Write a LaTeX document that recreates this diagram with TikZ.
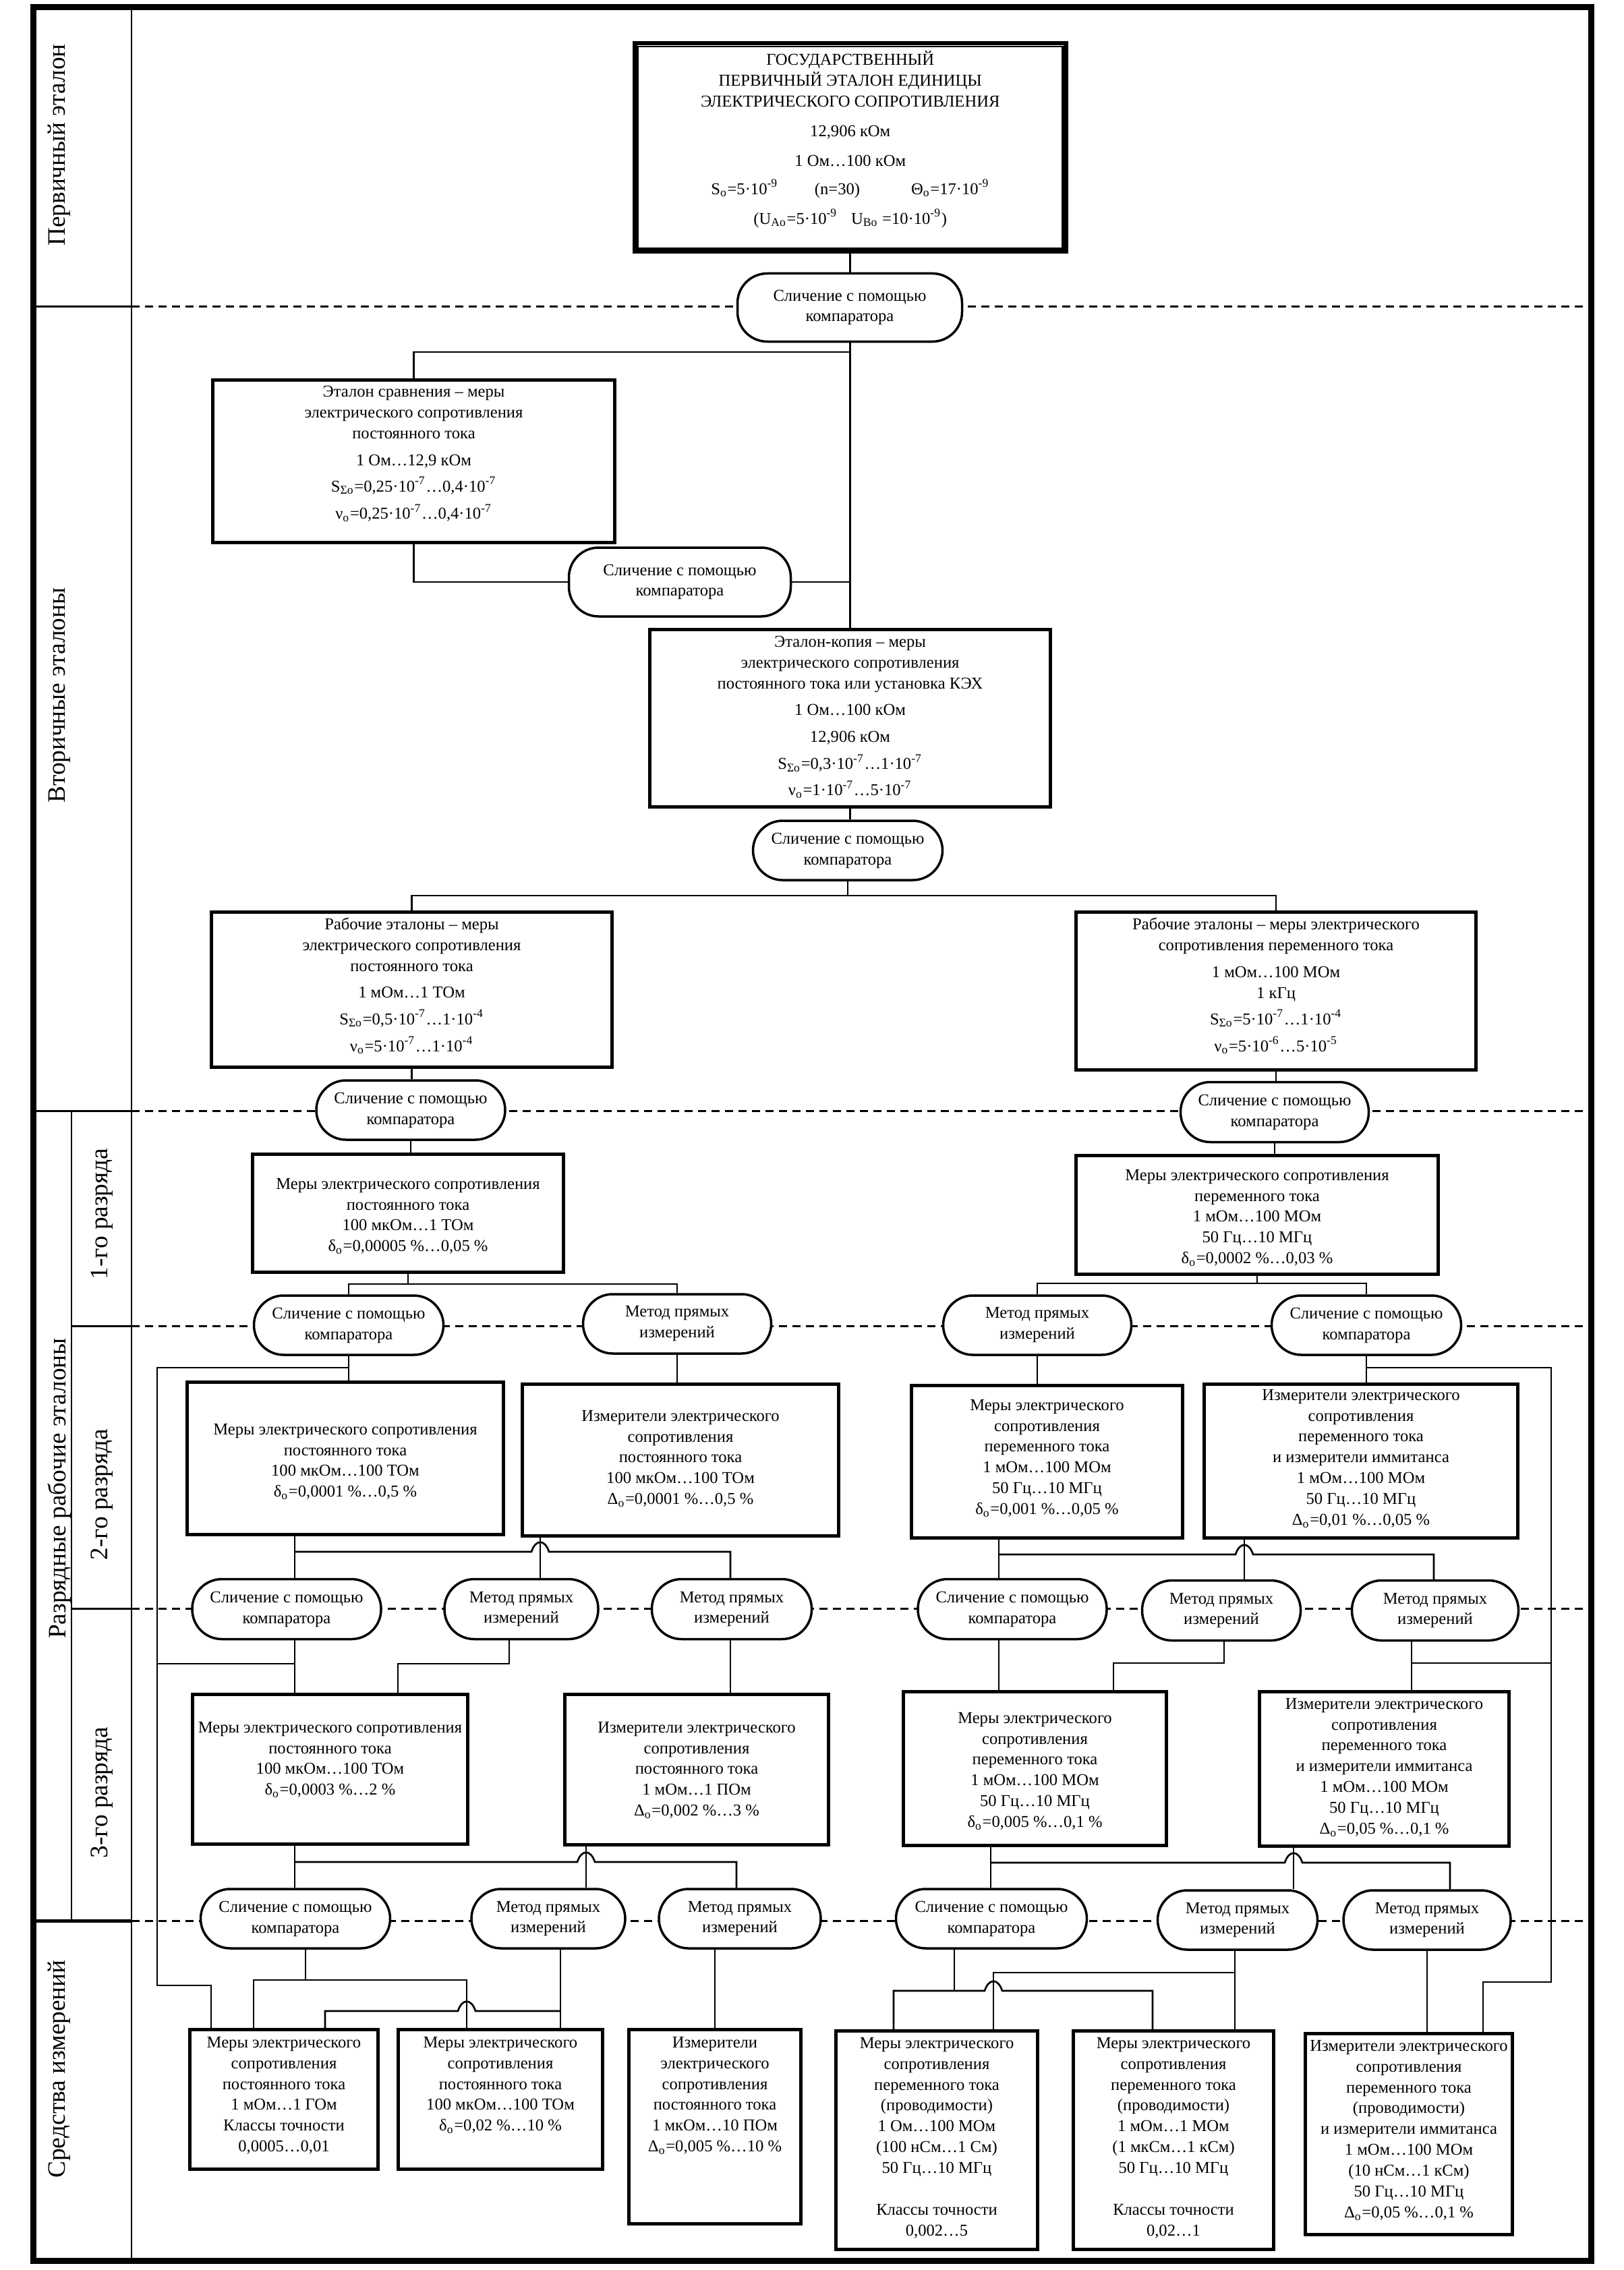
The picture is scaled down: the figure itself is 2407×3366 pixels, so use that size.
\documentclass[tikz,border=0pt]{standalone}
\usepackage{fontspec}
\setmainfont{Liberation Serif}
\newcommand{\Slich}{Сличение с помощью\\компаратора}
\newcommand{\Metod}{Метод прямых\\измерений}
\newcommand{\Ind}[1]{\textsubscript{#1}}
\newcommand{\Stp}[1]{\textsuperscript{#1}}
\newcommand{\Etext}[4]{\begin{minipage}[t][#2][t]{#1}\centering\vspace*{#3}#4\end{minipage}}
\newcommand{\hop}[2]{-- (#1-13,#2) .. controls (#1-7,#2-19) and (#1+7,#2-19) .. (#1+13,#2)}
\tikzstyle{etalon} = [draw, line width=0.5mm, fill=white, inner sep=0pt, anchor=north west, font=\fontsize{7}{8.8}\selectfont]
\tikzstyle{sposob} = [draw, line width=0.35mm, fill=white, rounded corners=4.4mm, align=center, inner sep=0pt, font=\fontsize{7}{8.8}\selectfont]
\tikzstyle{urov} = [rotate=90, inner sep=0pt, font=\fontsize{10.6}{12}\selectfont]
\tikzstyle{svyaz} = [line width=0.27mm]
\tikzstyle{granica} = [line width=0.3mm, dash pattern=on 1.2mm off 0.8mm]

\begin{document}
\begin{tikzpicture}[x=0.1mm, y=-0.1mm]
\useasboundingbox (0,0) rectangle (2407,3366);

% Frame and levels
\draw[line width=0.9mm] (49,11) rectangle (2359,3352);
\draw[line width=0.2mm] (195,11) -- (195,3352);
\draw[line width=0.2mm] (106,1647) -- (106,2848);
\draw[line width=0.3mm] (49,455) -- (195,455);
\draw[granica] (195,455) -- (2359,455);
\draw[line width=0.3mm] (49,1647) -- (195,1647);
\draw[granica] (195,1647) -- (2359,1647);
\draw[line width=0.3mm] (106,1966) -- (195,1966);
\draw[granica] (195,1966) -- (2359,1966);
\draw[line width=0.3mm] (106,2385) -- (195,2385);
\draw[granica] (195,2385) -- (2359,2385);
\draw[line width=0.5mm] (49,2848) -- (195,2848);
\draw[granica] (195,2848) -- (2359,2848);

\node[urov] (lbl1) at (88,215)  {Первичный эталон};
\node[urov] (lbl2) at (88,1031) {Вторичные эталоны};
\node[urov] (lbl3) at (88,2207) {Разрядные рабочие эталоны};
\node[urov] (lbl4) at (151,1800) {1-го разряда};
\node[urov] (lbl5) at (151,2216) {2-го разряда};
\node[urov] (lbl6) at (151,2658) {3-го разряда};
\node[urov] (lbl7) at (88,3068) {Средства измерений};

% Define nodes
\node[etalon, line width=0.65mm] (gpe) at (938,61) {\Etext{63.9mm}{30.9mm}{1.15mm}{ГОСУДАРСТВЕННЫЙ\\ПЕРВИЧНЫЙ ЭТАЛОН ЕДИНИЦЫ\\ЭЛЕКТРИЧЕСКОГО СОПРОТИВЛЕНИЯ\\[1.3mm]12,906 кОм\\[1.3mm]1 Ом…100 кОм\\[1.1mm]S\Ind{o}=5·10\Stp{-9}\hspace{5.4mm}(n=30)\hspace{7.6mm}Θ\Ind{o}=17·10\Stp{-9}\\[1.3mm](U\Ind{Ao}=5·10\Stp{-9}\hspace{2mm}U\Ind{Bo} =10·10\Stp{-9})}};
\draw[line width=0.25mm] ([xshift=0.8mm,yshift=-0.8mm]gpe.north west) rectangle ([xshift=-0.8mm,yshift=0.8mm]gpe.south east);
\node[sposob, minimum width=33.3mm, minimum height=10.1mm] (sl0) at (1260,456) {\Slich};

\node[etalon] (esr) at (313,561) {\Etext{59.6mm}{24.1mm}{0.85mm}{Эталон сравнения – меры\\электрического сопротивления\\постоянного тока\\[0.9mm]1 Ом…12,9 кОм\\[0.8mm]S\Ind{Σo}=0,25·10\Stp{-7}…0,4·10\Stp{-7}\\[1mm]ν\Ind{o}=0,25·10\Stp{-7}…0,4·10\Stp{-7}}};
\node[sposob, minimum width=32.9mm, minimum height=10.2mm] (sl1) at (1008,863) {\Slich};
\node[etalon] (ekp) at (961,931) {\Etext{59.4mm}{26.3mm}{0.95mm}{Эталон-копия – меры\\электрического сопротивления\\постоянного тока или установка КЭХ\\[0.8mm]1 Ом…100 кОм\\[0.9mm]12,906 кОм\\[1mm]S\Ind{Σo}=0,3·10\Stp{-7}…1·10\Stp{-7}\\[0.8mm]ν\Ind{o}=1·10\Stp{-7}…5·10\Stp{-7}}};
\node[sposob, minimum width=28.1mm, minimum height=8.8mm] (sl2) at (1257,1261) {\Slich};

\node[etalon] (rdc) at (311,1350) {\Etext{59.4mm}{23.0mm}{0.85mm}{Рабочие эталоны – меры\\электрического сопротивления\\постоянного тока\\[0.85mm]1 мОм…1 ТОм\\[0.85mm]S\Ind{Σo}=0,5·10\Stp{-7}…1·10\Stp{-4}\\[0.9mm]ν\Ind{o}=5·10\Stp{-7}…1·10\Stp{-4}}};
\node[etalon] (rac) at (1593,1350) {\Etext{59.3mm}{23.4mm}{0.85mm}{Рабочие эталоны – меры электрического\\сопротивления переменного тока\\[0.9mm]1 мОм…100 МОм\\1 кГц\\[0.8mm]S\Ind{Σo}=5·10\Stp{-7}…1·10\Stp{-4}\\[0.9mm]ν\Ind{o}=5·10\Stp{-6}…5·10\Stp{-5}}};
\node[sposob, minimum width=28.0mm, minimum height=8.8mm] (sl3) at (609,1646) {\Slich};
\node[sposob, minimum width=27.9mm, minimum height=8.9mm] (sl4) at (1890,1649) {\Slich};

\node[etalon] (r1dc) at (372,1709) {\Etext{46.1mm}{17.5mm}{3.55mm}{Меры электрического сопротивления\\постоянного тока\\100 мкОм…1 ТОм\\δ\Ind{o}=0,00005~\%…0,05~\%}};
\node[etalon] (r1ac) at (1593,1711) {\Etext{53.7mm}{17.6mm}{2.05mm}{Меры электрического сопротивления\\переменного тока\\1 мОм…100 МОм\\50 Гц…10 МГц\\δ\Ind{o}=0,0002~\%…0,03~\%}};
\node[sposob, minimum width=28.1mm, minimum height=8.8mm] (sl5) at (517,1965) {\Slich};
\node[sposob, minimum width=27.9mm, minimum height=8.8mm] (mp1) at (1004,1963) {\Metod};
\node[sposob, minimum width=27.9mm, minimum height=8.8mm] (mp2) at (1538,1965) {\Metod};
\node[sposob, minimum width=28.1mm, minimum height=8.8mm] (sl6) at (2026,1965) {\Slich};

\node[etalon] (r2mdc) at (275,2047) {\Etext{46.9mm}{22.6mm}{6.15mm}{Меры электрического сопротивления\\постоянного тока\\100 мкОм…100 ТОм\\δ\Ind{o}=0,0001~\%…0,5~\%}};
\node[etalon] (r2idc) at (772,2050) {\Etext{46.9mm}{22.5mm}{3.85mm}{Измерители электрического\\сопротивления\\постоянного тока\\100 мкОм…100 ТОм\\Δ\Ind{o}=0,0001~\%…0,5~\%}};
\node[etalon] (r2mac) at (1349,2052) {\Etext{40.2mm}{22.6mm}{2.05mm}{Меры электрического\\сопротивления\\переменного тока\\1 мОм…100 МОм\\50 Гц…10 МГц\\δ\Ind{o}=0,001~\%…0,05~\%}};
\node[etalon] (r2iac) at (1783,2050) {\Etext{46.5mm}{22.8mm}{0.75mm}{Измерители электрического\\сопротивления\\переменного тока\\и измерители иммитанса\\1 мОм…100 МОм\\50 Гц…10 МГц\\Δ\Ind{o}=0,01~\%…0,05~\%}};

\node[sposob, minimum width=28.0mm, minimum height=8.9mm] (sl7) at (425,2386) {\Slich};
\node[sposob, minimum width=22.8mm, minimum height=8.9mm] (mp3) at (773,2386) {\Metod};
\node[sposob, minimum width=23.7mm, minimum height=8.9mm] (mp4) at (1085,2386) {\Metod};
\node[sposob, minimum width=28.0mm, minimum height=8.9mm] (sl8) at (1501,2386) {\Slich};
\node[sposob, minimum width=23.5mm, minimum height=8.9mm] (mp5) at (1811,2388) {\Metod};
\node[sposob, minimum width=24.7mm, minimum height=8.9mm] (mp6) at (2128,2388) {\Metod};

\node[etalon] (r3mdc) at (283,2510) {\Etext{40.8mm}{22.2mm}{4.05mm}{Меры электрического сопротивления\\постоянного тока\\100 мкОм…100 ТОм\\δ\Ind{o}=0,0003~\%…2~\%}};
\node[etalon] (r3idc) at (835,2510) {\Etext{39.1mm}{22.3mm}{4.05mm}{Измерители электрического\\сопротивления\\постоянного тока\\1 мОм…1 ПОм\\Δ\Ind{o}=0,002~\%…3~\%}};
\node[etalon] (r3mac) at (1337,2506) {\Etext{39.0mm}{22.8mm}{3.05mm}{Меры электрического\\сопротивления\\переменного тока\\1 мОм…100 МОм\\50 Гц…10 МГц\\δ\Ind{o}=0,005~\%…0,1~\%}};
\node[etalon] (r3iac) at (1865,2506) {\Etext{37.0mm}{22.9mm}{0.95mm}{Измерители электрического\\сопротивления\\переменного тока\\и измерители иммитанса\\1 мОм…100 МОм\\50 Гц…10 МГц\\Δ\Ind{o}=0,05~\%…0,1~\%}};

\node[sposob, minimum width=28.1mm, minimum height=8.8mm] (sl9) at (438,2845) {\Slich};
\node[sposob, minimum width=22.8mm, minimum height=8.8mm] (mp7) at (813,2845) {\Metod};
\node[sposob, minimum width=24.0mm, minimum height=8.8mm] (mp8) at (1097,2845) {\Metod};
\node[sposob, minimum width=28.3mm, minimum height=8.8mm] (sl10) at (1470,2845) {\Slich};
\node[sposob, minimum width=23.7mm, minimum height=8.8mm] (mp9) at (1835,2847) {\Metod};
\node[sposob, minimum width=24.8mm, minimum height=8.8mm] (mp10) at (2116,2847) {\Metod};

\node[etalon] (smdc1) at (279,3007) {\Etext{27.9mm}{20.7mm}{1.05mm}{Меры электрического\\сопротивления\\постоянного тока\\1 мОм…1 ГОм\\Классы точности\\0,0005…0,01}};
\node[etalon] (smdc2) at (588,3007) {\Etext{30.3mm}{20.7mm}{1.05mm}{Меры электрического\\сопротивления\\постоянного тока\\100 мкОм…100 ТОм\\δ\Ind{o}=0,02~\%…10~\%}};
\node[etalon] (sidc) at (930,3007) {\Etext{25.5mm}{28.8mm}{1.05mm}{Измерители\\электрического\\сопротивления\\постоянного тока\\1 мкОм…10 ПОм\\Δ\Ind{o}=0,005~\%…10~\%}};
\node[etalon] (smac1) at (1237,3009) {\Etext{29.9mm}{32.4mm}{0.95mm}{Меры электрического\\сопротивления\\переменного тока\\(проводимости)\\1 Ом…100 МОм\\(100 нСм…1 См)\\50 Гц…10 МГц\\[3.1mm]Классы точности\\0,002…5}};
\node[etalon] (smac2) at (1589,3009) {\Etext{29.7mm}{32.4mm}{0.95mm}{Меры электрического\\сопротивления\\переменного тока\\(проводимости)\\1 мОм…1 МОм\\(1 мкСм…1 кСм)\\50 Гц…10 МГц\\[3.1mm]Классы точности\\0,02…1}};
\node[etalon] (siac) at (1933,3013) {\Etext{30.7mm}{29.8mm}{0.95mm}{Измерители электрического\\сопротивления\\переменного тока\\(проводимости)\\и измерители иммитанса\\1 мОм…100 МОм\\(10 нСм…1 кСм)\\50 Гц…10 МГц\\Δ\Ind{o}=0,05~\%…0,1~\%}};

% Edges
\draw[svyaz] (gpe.south) -- (gpe.south |- sl0.north);
\draw[svyaz] (ekp.north |- sl0.south) -- (ekp.north);
\draw[svyaz] (esr.north) |- (ekp.north |- 0,522);
\draw[svyaz] (esr.south) |- (sl1.west);
\draw[svyaz] (sl1.east) -- (ekp.north |- sl1.east);
\draw[svyaz] (ekp.south) -- (ekp.south |- sl2.north);
\coordinate (shina1) at (1257,1328);
\draw[svyaz] (sl2.south) -- (shina1);
\draw[svyaz] (rdc.north) |- (shina1) -| (rac.north);
\draw[svyaz] (rdc.south) -- (rdc.south |- sl3.north);
\draw[svyaz] (sl3.south) -- (sl3.south |- r1dc.north);
\draw[svyaz] (rac.south) -- (rac.south |- sl4.north);
\draw[svyaz] (sl4.south) -- (sl4.south |- r1ac.north);

\draw[svyaz] (r1dc.south) -- (r1dc.south |- 0,1904);
\draw[svyaz] (sl5.north) |- (mp1.north |- 0,1904) -- (mp1.north);
\draw[svyaz] (r1ac.south) -- (r1ac.south |- 0,1903);
\draw[svyaz] (mp2.north) |- (sl6.north |- 0,1903) -- (sl6.north);
\draw[svyaz] (sl5.south) -- (sl5.south |- r2mdc.north);
\draw[svyaz] (mp1.south) -- (mp1.south |- r2idc.north);
\draw[svyaz] (mp2.south) -- (mp2.south |- r2mac.north);
\draw[svyaz] (sl6.south) -- (sl6.south |- r2iac.north);

% bypass lines
\draw[svyaz] (sl5.south |- 0,2028) -| (233,2944) -| (313,0 |- smdc1.north);
\draw[svyaz] (233,2467) -- (437,2467);
\draw[svyaz] (sl6.south |- 0,2028) -| (2300,2939) -| (2199,0 |- siac.north);
\draw[svyaz] (2300,2466) -- (2093,2466);

\draw[svyaz] (437,0 |- r2mdc.south) -- (437,0 |- sl7.north);
\draw[svyaz] (437,2301) \hop{801}{2301} -- (1083,2301) -- (1083,0 |- mp4.north);
\draw[svyaz] (801,0 |- r2idc.south) -- (801,0 |- mp3.north);
\draw[svyaz] (437,0 |- sl7.south) -- (437,0 |- r3mdc.north);
\draw[svyaz] (755,0 |- mp3.south) |- (590,2467) -- (590,0 |- r3mdc.north);
\draw[svyaz] (1083,0 |- mp4.south) -- (1083,0 |- r3idc.north);

\draw[svyaz] (1481,0 |- r2mac.south) -- (1481,0 |- sl8.north);
\draw[svyaz] (1481,2305) \hop{1845}{2305} -- (2126,2305) -- (2126,0 |- mp6.north);
\draw[svyaz] (1845,0 |- r2iac.south) -- (1845,0 |- mp5.north);
\draw[svyaz] (1481,0 |- sl8.south) -- (1481,0 |- r3mac.north);
\draw[svyaz] (1815,0 |- mp5.south) |- (1651,2466) -- (1651,0 |- r3mac.north);
\draw[svyaz] (2093,0 |- mp6.south) -- (2093,0 |- r3iac.north);

\draw[svyaz] (437,0 |- r3mdc.south) -- (437,0 |- sl9.north);
\draw[svyaz] (437,2761) \hop{869}{2761} -- (1092,2761) -- (1092,0 |- mp8.north);
\draw[svyaz] (869,0 |- r3idc.south) -- (869,0 |- mp7.north);
\draw[svyaz] (453,0 |- sl9.south) -- (453,2936);
\draw[svyaz] (376,0 |- smdc1.north) |- (692,2936) -- (692,0 |- smdc2.north);
\draw[svyaz] (831,0 |- mp7.south) -- (831,0 |- smdc2.north);
\draw[svyaz] (482,0 |- smdc1.north) -- (482,2982) \hop{692}{2982} -- (831,2982);
\draw[svyaz] (1060,0 |- mp8.south) -- (1060,0 |- sidc.north);

\draw[svyaz] (1469,0 |- r3mac.south) -- (1469,0 |- sl10.north);
\draw[svyaz] (1469,2762) \hop{1918}{2762} -- (2150,2762) -- (2150,0 |- mp10.north);
\draw[svyaz] (1918,0 |- r3iac.south) -- (1918,0 |- mp9.north);
\draw[svyaz] (1415,0 |- sl10.south) -- (1415,2952);
\draw[svyaz] (1325,0 |- smac1.north) -- (1325,2952) \hop{1473}{2952} -- (1709,2952) -- (1709,0 |- smac2.north);
\draw[svyaz] (1831,0 |- mp9.south) |- (1473,2925) -- (1473,0 |- smac1.north);
\draw[svyaz] (1831,2925) -- (1831,0 |- smac2.north);
\draw[svyaz] (2116,0 |- mp10.south) -- (2116,0 |- siac.north);
\end{tikzpicture}
\end{document}
